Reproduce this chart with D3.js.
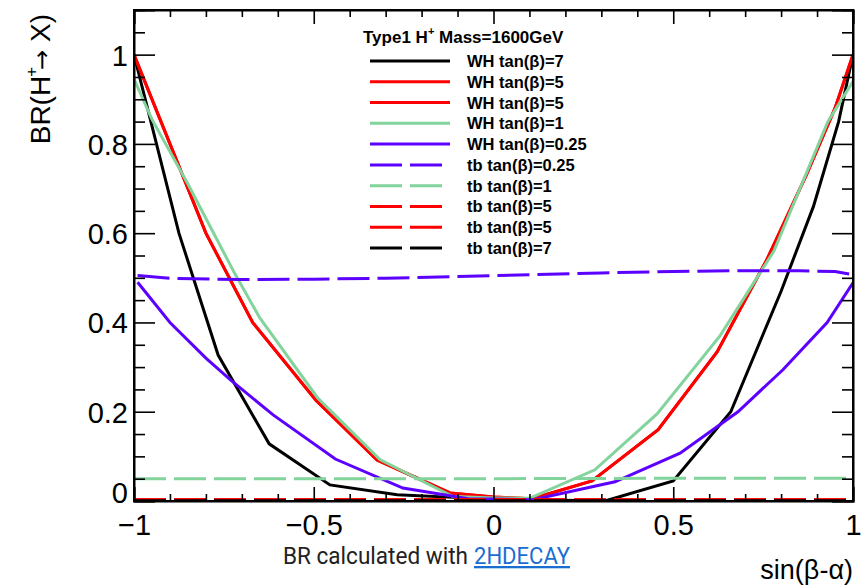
<!DOCTYPE html>
<html><head><meta charset="utf-8">
<script src="https://cdn.jsdelivr.net/npm/d3@7"></script>
<style>body{margin:0;background:#fff}svg{display:block}</style>
</head><body><svg id="c" width="861" height="586"></svg>
<script>
// ---- data ----
const wh7X  = [-1, -0.875, -0.766, -0.624, -0.455, -0.268, -0.08, 0.11, 0.31, 0.50, 0.66, 0.80, 0.89, 0.96, 1.0];
const wh7Y  = [1.0, 0.60, 0.327, 0.128, 0.036, 0.014, 0.007, 0.003, 0.0, 0.045, 0.20, 0.47, 0.66, 0.85, 1.0];
const wh5X  = [-1, -0.93, -0.80, -0.67, -0.494, -0.324, -0.121, 0.0, 0.107, 0.274, 0.458, 0.622, 0.76, 0.87, 0.95, 1.0];
const wh5Y  = [1.0, 0.86, 0.60, 0.40, 0.226, 0.092, 0.018, 0.009, 0.005, 0.045, 0.16, 0.334, 0.54, 0.73, 0.88, 1.0];
const wh1X  = [-1, -0.95, -0.85, -0.72, -0.65, -0.49, -0.316, -0.113, 0.0, 0.10, 0.282, 0.455, 0.63, 0.78, 0.93, 1.0];
const wh1Y  = [0.945, 0.855, 0.71, 0.51, 0.41, 0.232, 0.093, 0.01, 0.007, 0.006, 0.07, 0.195, 0.37, 0.56, 0.85, 0.94];
const wh025X = [-0.99, -0.90, -0.80, -0.73, -0.613, -0.44, -0.252, -0.07, 0.11, 0.338, 0.519, 0.68, 0.805, 0.928, 1.0];
const wh025Y = [0.49, 0.40, 0.32, 0.27, 0.193, 0.094, 0.029, 0.005, 0.003, 0.043, 0.107, 0.20, 0.294, 0.40, 0.489];
const tb025X = [-0.99, -0.9, -0.7, -0.5, -0.3, -0.1, 0.1, 0.3, 0.5, 0.7, 0.85, 0.95, 1.0];
const tb025Y = [0.505, 0.499, 0.496, 0.497, 0.499, 0.503, 0.507, 0.511, 0.514, 0.516, 0.516, 0.514, 0.507];
const tb1X  = [-1, -0.5, 0, 0.5, 1];
const tb1Y  = [0.05, 0.05, 0.05, 0.051, 0.051];
const tb5X  = [-1, -0.5, 0, 0.5, 1];
const tb5Y  = [0.003, 0.003, 0.003, 0.003, 0.003];
const tb7X  = [-1, -0.5, 0, 0.5, 1];
const tb7Y  = [0.0005, 0.0005, 0.0005, 0.0005, 0.0005];

const legendLabels = ["WH tan(β)=7","WH tan(β)=5","WH tan(β)=5","WH tan(β)=1","WH tan(β)=0.25",
                      "tb tan(β)=0.25","tb tan(β)=1","tb tan(β)=5","tb tan(β)=5","tb tan(β)=7"];
const xTickValues = [-1, -0.5, 0, 0.5, 1];
const xTickLabels = ["−1", "−0.5", "0", "0.5", "1"];
const yTickValues = [0, 0.2, 0.4, 0.6, 0.8, 1];
const yTickLabels = ["0", "0.2", "0.4", "0.6", "0.8", "1"];

// ---- styles ----
const BLACK = "#000000", RED = "#ff0000", GREEN = "#82d49c", VIOLET = "#5c00ff";
const series = [
  {x: wh7X, y: wh7Y, c: BLACK, dash: null},
  {x: wh5X, y: wh5Y, c: RED, dash: null},
  {x: wh5X, y: wh5Y, c: RED, dash: null},
  {x: wh1X, y: wh1Y, c: GREEN, dash: null},
  {x: wh025X, y: wh025Y, c: VIOLET, dash: null},
  {x: tb025X, y: tb025Y, c: VIOLET, dash: "32,8"},
  {x: tb1X, y: tb1Y, c: GREEN, dash: "32,8"},
  {x: tb5X, y: tb5Y, c: RED, dash: "32,8"},
  {x: tb5X, y: tb5Y, c: RED, dash: "32,8"},
  {x: tb7X, y: tb7Y, c: BLACK, dash: "32,8"}
];
series.forEach((s, i) => s.label = legendLabels[i]);

const L = 134, R = 853, T = 10, B = 501;
const x = d3.scaleLinear().domain([-1, 1]).range([L, R]);
const y = d3.scaleLinear().domain([0, 1.1]).range([B, T]);

const svg = d3.select("#c");
const FONT = "'Liberation Sans', Arial, Helvetica, sans-serif";

svg.append("defs").append("clipPath").attr("id", "clip")
  .append("rect").attr("x", L).attr("y", T).attr("width", R - L).attr("height", B - T);

// ---- data lines ----
const line = d3.line().x(d => x(d[0])).y(d => y(d[1]));
const gl = svg.append("g").attr("clip-path", "url(#clip)");
series.forEach(s => {
  gl.append("path").datum(d3.zip(s.x, s.y))
    .attr("d", line).attr("fill", "none")
    .attr("stroke", s.c).attr("stroke-width", 3)
    .attr("stroke-dasharray", s.dash);
});

// ---- axes ----
const xMinor = d3.range(-10, 11).map(i => i / 10).filter(v => Math.abs(v * 2 - Math.round(v * 2)) > 1e-9);
const yMinor = d3.range(0, 23).map(i => i * 0.05).filter(v => Math.abs(v * 5 - Math.round(v * 5)) > 1e-9);
const yMajorAll = [0, 0.2, 0.4, 0.6, 0.8, 1.0];

function styleAxis(g) {
  g.selectAll("path.domain").attr("stroke", "#000").attr("stroke-width", 2);
  g.selectAll(".tick line").attr("stroke", "#000").attr("stroke-width", 1.6);
  g.selectAll(".tick text").attr("fill", "#000").style("font-family", FONT).style("font-size", "29px");
}

// bottom
const gb = svg.append("g").attr("transform", `translate(0,${B})`)
  .call(d3.axisBottom(x).tickValues(xTickValues).tickFormat((d, i) => xTickLabels[i]).tickSize(-14).tickPadding(13));
styleAxis(gb);
svg.append("g").attr("transform", `translate(0,${B})`)
  .call(d3.axisBottom(x).tickValues(xMinor).tickFormat("").tickSize(-7)).call(g => { g.select(".domain").remove(); styleAxis(g); });
// top
const gt = svg.append("g").attr("transform", `translate(0,${T})`)
  .call(d3.axisTop(x).tickValues(xTickValues).tickFormat("").tickSize(-14));
styleAxis(gt);
svg.append("g").attr("transform", `translate(0,${T})`)
  .call(d3.axisTop(x).tickValues(xMinor).tickFormat("").tickSize(-7)).call(g => { g.select(".domain").remove(); styleAxis(g); });
// left
const gLeft = svg.append("g").attr("transform", `translate(${L},0)`)
  .call(d3.axisLeft(y).tickValues(yTickValues).tickFormat((d, i) => yTickLabels[i]).tickSize(-21).tickPadding(6));
styleAxis(gLeft);
gLeft.selectAll(".tick text").attr("dy", "0.36em");
gLeft.selectAll(".tick").filter(d => d === 0).select("text").attr("dy", "0.05em");
svg.append("g").attr("transform", `translate(${L},0)`)
  .call(d3.axisLeft(y).tickValues(yMinor).tickFormat("").tickSize(-11)).call(g => { g.select(".domain").remove(); styleAxis(g); });
// right
const gr = svg.append("g").attr("transform", `translate(${R},0)`)
  .call(d3.axisRight(y).tickValues(yMajorAll).tickFormat("").tickSize(-21));
styleAxis(gr);
svg.append("g").attr("transform", `translate(${R},0)`)
  .call(d3.axisRight(y).tickValues(yMinor).tickFormat("").tickSize(-11)).call(g => { g.select(".domain").remove(); styleAxis(g); });
// closing frame edges
svg.append("rect").attr("x", L).attr("y", T).attr("width", R - L).attr("height", B - T)
  .attr("fill", "none").attr("stroke", "#000").attr("stroke-width", 2);

// ---- axis titles ----
const yt = svg.append("text").attr("transform", "translate(50,14) rotate(-90)")
  .attr("text-anchor", "end").style("font-family", FONT).style("font-size", "28px").attr("fill", "#000");
yt.append("tspan").text("BR(H");
yt.append("tspan").text("+").style("font-size", "17px").attr("dy", -13).attr("dx", -1);
yt.append("tspan").text("→").attr("dy", 13).attr("dx", -3).style("font-family", "'DejaVu Sans', sans-serif").style("font-size", "24px");
yt.append("tspan").text(" X)");

svg.append("text").attr("x", 853).attr("y", 579).attr("text-anchor", "end")
  .style("font-family", FONT).style("font-size", "27px").attr("fill", "#000").text("sin(β-α)");

// ---- footer ----
svg.append("text").attr("x", 283).attr("y", 564)
  .attr("textLength", 185).attr("lengthAdjust", "spacingAndGlyphs")
  .style("font-family", "Roboto, sans-serif").style("font-weight", 400).style("font-size", "23px")
  .attr("fill", "#222").text("BR calculated with");
svg.append("text").attr("x", 474).attr("y", 564)
  .attr("textLength", 96).attr("lengthAdjust", "spacingAndGlyphs")
  .style("font-family", "Roboto, sans-serif").style("font-weight", 400).style("font-size", "23px")
  .attr("fill", "#1a6dd1").attr("text-decoration", "underline").text("2HDECAY");

// ---- legend ----
const lg = svg.append("g");
const tt = lg.append("text").attr("x", 363).attr("y", 43)
  .style("font-family", FONT).style("font-weight", "bold").style("font-size", "17px").attr("fill", "#000");
tt.append("tspan").text("Type1 H");
tt.append("tspan").text("+").style("font-size", "11px").attr("dy", -8);
tt.append("tspan").text(" Mass=1600GeV").attr("dy", 8);

const rowY = d3.scaleLinear().domain([0, 9]).range([61, 248]);
series.forEach((s, i) => {
  const yy = rowY(i);
  lg.append("line").attr("x1", 370).attr("x2", 450).attr("y1", yy).attr("y2", yy)
    .attr("stroke", s.c).attr("stroke-width", 3).attr("stroke-dasharray", s.dash);
  lg.append("text").attr("x", 467).attr("y", yy + 6)
    .style("font-family", FONT).style("font-weight", "bold").style("font-size", "16.5px")
    .attr("fill", "#000").text(s.label);
});
</script>
</body></html>
